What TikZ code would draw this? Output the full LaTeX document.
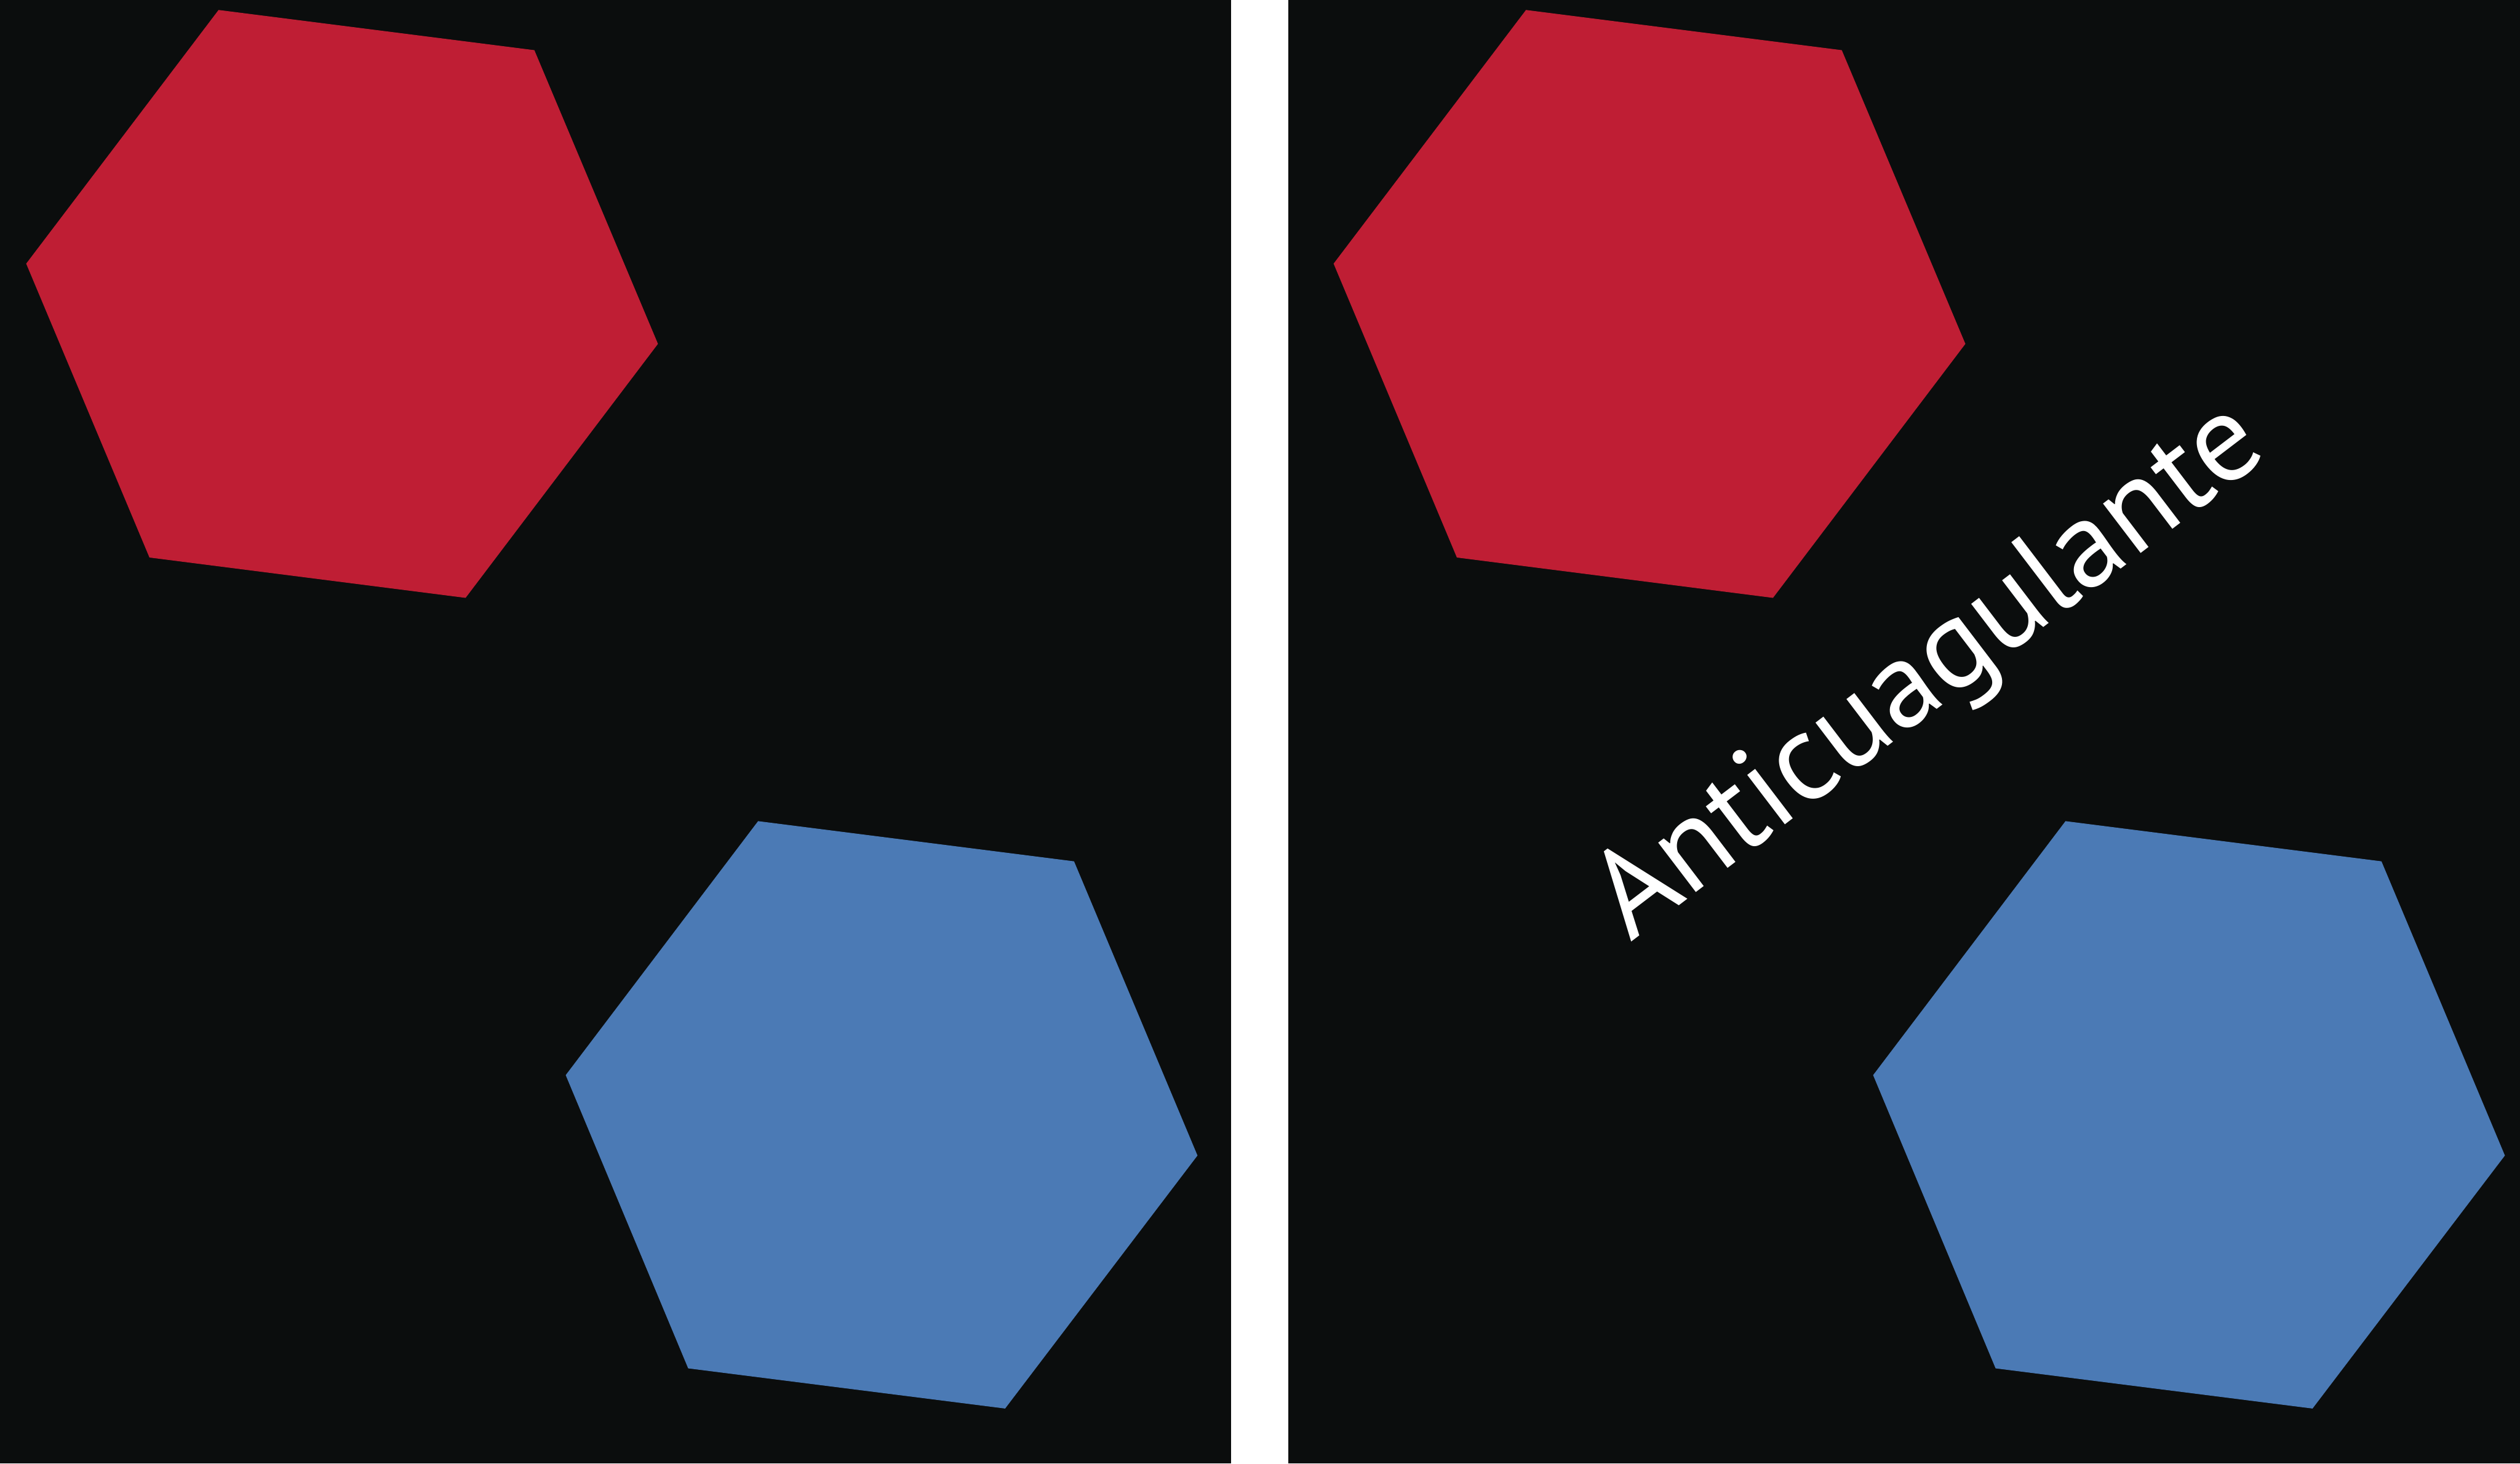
\documentclass[tikz,border=0pt]{standalone}
\usepackage{graphicx}
\usepackage{fontspec}
\setmainfont[Ligatures=NoCommon]{PT Sans}
\definecolor{bgblack}{HTML}{0B0D0D}
\definecolor{hexred}{HTML}{BF1E34}
\definecolor{hexblue}{HTML}{4B7AB5}
\begin{document}
\begin{tikzpicture}[x=0.01cm,y=-0.01cm,
  panel/.style={fill=bgblack},
  redhex/.style={fill=hexred},
  bluehex/.style={fill=hexblue},
  labeltext/.style={text=white, inner sep=0pt, anchor=base, rotate=37.3}]
\useasboundingbox (0,0) rectangle (1568,910.4);
\fill[white] (0,0) rectangle (1568,910.4);
% panels
\fill[panel] (0,0) rectangle (766.1,910.4);
\fill[panel] (801.7,0) rectangle (1568,910.4);
% left panel hexagons
\fill[redhex] (136,6.2) -- (332.5,31.2) -- (409.4,213.9) -- (289.7,371.9) -- (93,346.8) -- (16.3,164) -- cycle;
\fill[bluehex] (471.7,510.8) -- (668.3,535.8) -- (745.1,718.8) -- (625.4,876.2) -- (428.2,851.2) -- (352,668.8) -- cycle;
% right panel hexagons
\fill[redhex] (949.5,6.2) -- (1146,31.2) -- (1222.9,213.9) -- (1103.2,371.9) -- (906.5,346.8) -- (829.8,164) -- cycle;
\fill[bluehex] (1285.2,510.8) -- (1481.8,535.8) -- (1558.6,718.8) -- (1438.9,876.2) -- (1241.7,851.2) -- (1165.5,668.8) -- cycle;
% label
\node[labeltext] (label) at (1213.5,434.5) {\resizebox{5.0cm}{!}{Anticuagulante}};
\end{tikzpicture}
\end{document}
